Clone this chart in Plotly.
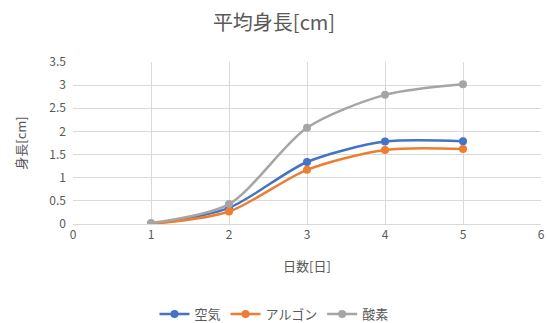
import plotly.graph_objects as go

days = [1, 2, 3, 4, 5]
air = [0.0, 0.35, 1.34, 1.78, 1.79]
argon = [0.0, 0.27, 1.17, 1.60, 1.62]
oxygen = [0.02, 0.43, 2.08, 2.79, 3.02]
names = ["空気", "アルゴン", "酸素"]
colors = ["#4472C4", "#ED7D31", "#A5A5A5"]

FONT = "Noto Sans CJK JP"
fig = go.Figure()
for name, vals, c in zip(names, [air, argon, oxygen], colors):
    fig.add_trace(go.Scatter(
        x=days, y=vals, name=name, mode="lines+markers",
        line=dict(color=c, width=2.5, shape="spline", smoothing=0.8),
        marker=dict(color=c, size=8),
    ))

fig.update_layout(
    width=548, height=323,
    margin=dict(l=73, r=7, t=62, b=99, autoexpand=False),
    paper_bgcolor="white", plot_bgcolor="white",
    font=dict(family=FONT, color="#595959", size=12),
    title=dict(text="平均身長[cm]", x=0.5, xanchor="center", y=0.93, yanchor="middle",
               font=dict(size=20, color="#595959", family=FONT)),
    showlegend=True,
    legend=dict(orientation="h", xref="container", x=0.5, xanchor="center",
                yref="container", y=0.028, yanchor="middle",
                font=dict(size=13, color="#595959"), itemwidth=30,
                tracegroupgap=0),
)
fig.update_xaxes(range=[0, 6], dtick=1, tick0=0, showgrid=True, gridcolor="#D9D9D9",
                 zeroline=False, showline=True, linecolor="#D9D9D9", ticks="",
                 automargin=False,
                 title=dict(text="日数[日]", standoff=20, font=dict(size=13, color="#595959")),
                 fixedrange=True)
fig.update_yaxes(range=[0, 3.5], dtick=0.5, tick0=0, showgrid=True, gridcolor="#D9D9D9",
                 zeroline=False, showline=False, ticks="", ticklabelstandoff=6,
                 automargin=False,
                 title=dict(text="身長[cm]", standoff=19, font=dict(size=13, color="#595959")),
                 fixedrange=True)

fig.write_html("out.html")
